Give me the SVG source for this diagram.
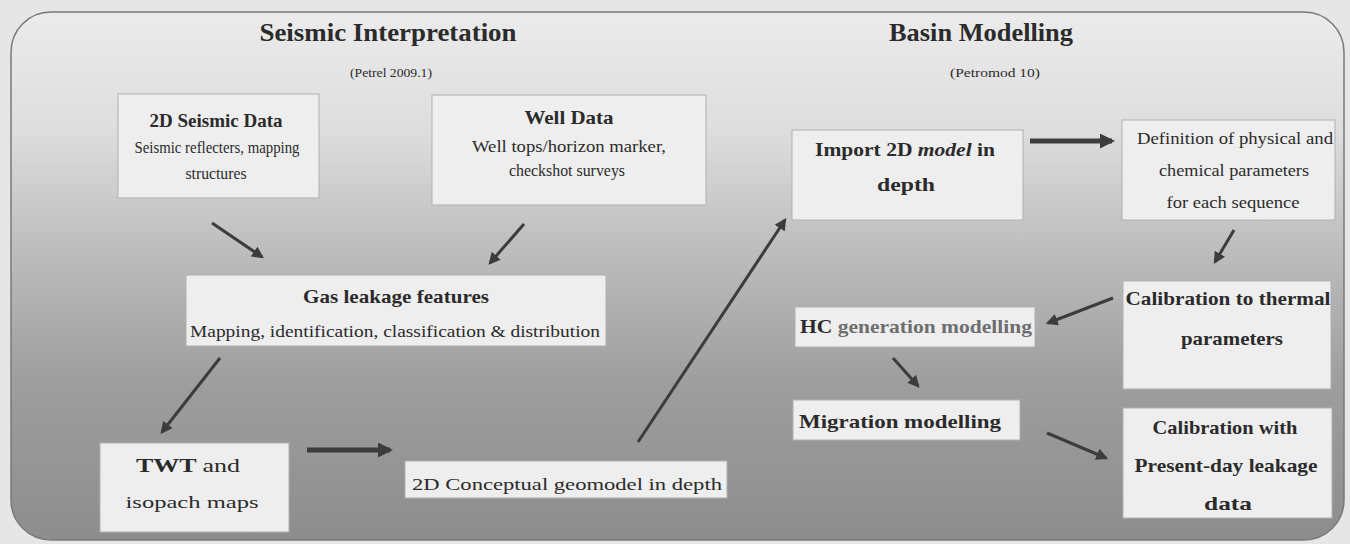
<svg xmlns="http://www.w3.org/2000/svg" width="1350" height="544" viewBox="0 0 1350 544">
<defs>
<linearGradient id="bg" x1="0" y1="0" x2="0" y2="1">
<stop offset="0" stop-color="#ebebeb"/>
<stop offset="0.22" stop-color="#dedede"/>
<stop offset="0.45" stop-color="#bdbdbd"/>
<stop offset="0.7" stop-color="#9e9e9e"/>
<stop offset="1" stop-color="#8d8d8d"/>
</linearGradient>
<marker id="ah" viewBox="0 0 10 10" refX="8" refY="5" markerWidth="4" markerHeight="4" orient="auto" markerUnits="strokeWidth">
<path d="M0,0 L10,5 L0,10 z" fill="#3c3c3c"/>
</marker>
<marker id="ahw" viewBox="0 0 10 10" refX="8" refY="5" markerWidth="3" markerHeight="3" orient="auto" markerUnits="strokeWidth">
<path d="M0,0 L10,5 L0,10 z" fill="#3c3c3c"/>
</marker>
</defs>
<style>
.box{fill:#eeeeee;stroke:#b0b0b0;stroke-width:1}
.t{font-family:"Liberation Serif","Times New Roman",serif;fill:#2b2b2b;text-anchor:middle}
.h{font-size:26px;font-weight:bold}
.s{font-size:13px}
.b{font-size:19px;font-weight:bold}
.r{font-size:16px}
.c{fill:none;stroke:#3c3c3c;stroke-width:3;marker-end:url(#ah)}
.cw{fill:none;stroke:#3c3c3c;stroke-width:5;marker-end:url(#ahw)}
</style>
<rect x="0" y="0" width="1350" height="544" fill="#e6e6e6"/>
<rect x="11" y="12" width="1333" height="528" rx="40" ry="40" fill="url(#bg)" stroke="#7a7a7a" stroke-width="1.5"/>

<g id="hdr-seismic">
<text class="t h" x="388" y="41" textLength="257" lengthAdjust="spacingAndGlyphs">Seismic Interpretation</text>
<text class="t s" x="391" y="77" textLength="82" lengthAdjust="spacingAndGlyphs">(Petrel 2009.1)</text>
</g>
<g id="hdr-basin">
<text class="t h" x="981" y="41" textLength="184" lengthAdjust="spacingAndGlyphs">Basin Modelling</text>
<text class="t s" x="995" y="77" textLength="90" lengthAdjust="spacingAndGlyphs">(Petromod 10)</text>
</g>

<g id="n-seismic">
<rect class="box" x="118" y="94" width="201" height="104" stroke="#d0d0d0"/>
<text class="t b" x="216" y="127" textLength="133" lengthAdjust="spacingAndGlyphs">2D Seismic Data</text>
<text class="t r" x="217" y="153" textLength="165" lengthAdjust="spacingAndGlyphs">Seismic reflecters, mapping</text>
<text class="t r" x="216" y="179" textLength="61" lengthAdjust="spacingAndGlyphs">structures</text>
</g>
<g id="n-well">
<rect class="box" x="432" y="95" width="274" height="110" stroke="#8a8a8a"/>
<text class="t b" x="569" y="124" textLength="89" lengthAdjust="spacingAndGlyphs">Well Data</text>
<text class="t r" x="569" y="152" textLength="194" lengthAdjust="spacingAndGlyphs">Well tops/horizon marker,</text>
<text class="t r" x="567" y="176" textLength="116" lengthAdjust="spacingAndGlyphs">checkshot surveys</text>
</g>
<g id="n-gas">
<rect class="box" x="186" y="275" width="420" height="71"/>
<text class="t b" x="396" y="303" textLength="186" lengthAdjust="spacingAndGlyphs">Gas leakage features</text>
<text class="t r" x="395" y="337" textLength="410" lengthAdjust="spacingAndGlyphs">Mapping, identification, classification &amp; distribution</text>
</g>
<g id="n-twt">
<rect class="box" x="100" y="443" width="189" height="89"/>
<text class="t b" x="188" y="472" textLength="104" lengthAdjust="spacingAndGlyphs">TWT <tspan font-weight="normal">and</tspan></text>
<text class="t r" x="192" y="508" textLength="133" lengthAdjust="spacingAndGlyphs">isopach maps</text>
</g>
<g id="n-concept">
<rect class="box" x="405" y="461" width="322" height="37" fill="#f2f2f2"/>
<text class="t r" x="567" y="490" textLength="310" lengthAdjust="spacingAndGlyphs">2D Conceptual geomodel in depth</text>
</g>
<g id="n-import">
<rect class="box" x="792" y="130" width="231" height="90"/>
<text class="t b" x="905" y="156" textLength="180" lengthAdjust="spacingAndGlyphs">Import 2D <tspan font-style="italic">model</tspan> in</text>
<text class="t b" x="906" y="191" textLength="58" lengthAdjust="spacingAndGlyphs">depth</text>
</g>
<g id="n-define">
<rect class="box" x="1122" y="120" width="213" height="100" stroke="#8a8a8a" fill="#eaeaea"/>
<text class="t r" x="1235" y="144" textLength="196" lengthAdjust="spacingAndGlyphs">Definition of physical and</text>
<text class="t r" x="1234" y="176" textLength="150" lengthAdjust="spacingAndGlyphs">chemical parameters</text>
<text class="t r" x="1233" y="208" textLength="133" lengthAdjust="spacingAndGlyphs">for each sequence</text>
</g>
<g id="n-calthermal">
<rect class="box" x="1123" y="281" width="208" height="108"/>
<text class="t b" x="1228" y="305" textLength="205" lengthAdjust="spacingAndGlyphs">Calibration to thermal</text>
<text class="t b" x="1232" y="345" textLength="102" lengthAdjust="spacingAndGlyphs">parameters</text>
</g>
<g id="n-hc">
<rect class="box" x="795" y="307" width="240" height="40"/>
<text class="t b" x="916" y="333" textLength="232" lengthAdjust="spacingAndGlyphs">HC <tspan fill="#6e6e6e">generation modelling</tspan></text>
</g>
<g id="n-migration">
<rect class="box" x="793" y="400" width="227" height="40"/>
<text class="t b" x="900" y="428" textLength="202" lengthAdjust="spacingAndGlyphs">Migration modelling</text>
</g>
<g id="n-calleak">
<rect class="box" x="1123" y="408" width="209" height="110" fill="#f0f0f0"/>
<text class="t b" x="1225" y="434" textLength="145" lengthAdjust="spacingAndGlyphs">Calibration with</text>
<text class="t b" x="1226" y="472" textLength="183" lengthAdjust="spacingAndGlyphs">Present-day leakage</text>
<text class="t b" x="1228" y="510" textLength="48" lengthAdjust="spacingAndGlyphs">data</text>
</g>

<g id="connectors">
<line class="c" x1="212" y1="223" x2="262" y2="257"/>
<line class="c" x1="524" y1="224" x2="490" y2="263"/>
<line class="c" x1="220" y1="358" x2="162" y2="432"/>
<line class="cw" x1="307" y1="450" x2="390" y2="450"/>
<line class="c" x1="638" y1="442" x2="785" y2="220"/>
<line class="cw" x1="1030" y1="141" x2="1112" y2="141"/>
<line class="c" x1="1234" y1="230" x2="1215" y2="262"/>
<line class="c" x1="1113" y1="298" x2="1048" y2="323"/>
<line class="c" x1="893" y1="358" x2="918" y2="386"/>
<line class="c" x1="1047" y1="433" x2="1106" y2="458"/>
</g>
</svg>
